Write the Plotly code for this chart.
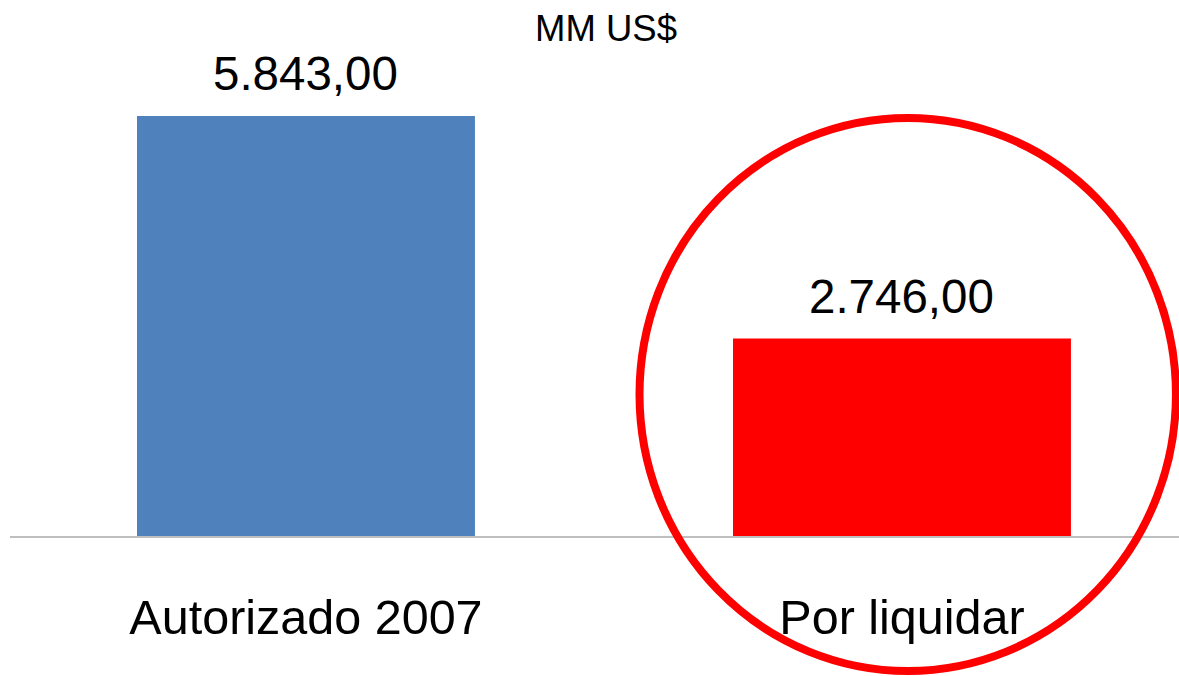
import plotly.graph_objects as go

categories = ["Autorizado 2007", "Por liquidar"]
values = [5843.00, 2746.00]
labels = ["5.843,00", "2.746,00"]
colors = ["#4F81BD", "#FF0000"]
unit_label = "MM US$"

FONT = "Liberation Sans, Arial, sans-serif"

fig = go.Figure()
fig.add_trace(go.Bar(
    x=[0, 1], y=values, marker=dict(color=colors, line=dict(width=0)),
    width=0.567, showlegend=False, hoverinfo="skip",
))

for i, (v, t) in enumerate(zip(values, labels)):
    fig.add_annotation(x=i, y=v, xref="x", yref="y", text=t, showarrow=False,
                       yanchor="bottom", yshift=14,
                       font=dict(family=FONT, size=47.5, color="#000000"))

fig.add_annotation(x=(606 - 10) / 1169, y=1, xref="paper", yref="paper",
                   text=unit_label, showarrow=False, yanchor="middle", yshift=-28,
                   font=dict(family=FONT, size=36.5, color="#000000"))

# red highlight ellipse
fig.add_shape(type="circle", xref="paper", yref="paper",
              x0=0.5385, x1=0.9974, y0=-0.2519, y1=0.7799,
              line=dict(color="#FF0000", width=8), layer="above")

fig.update_layout(
    width=1179, height=676,
    margin=dict(l=10, r=0, t=0, b=140, pad=0),
    plot_bgcolor="#FFFFFF", paper_bgcolor="#FFFFFF",
    bargap=0.4,
    xaxis=dict(range=[-0.4966, 1.4648], tickmode="array", tickvals=[0, 1],
               ticktext=categories, showline=True, linecolor="#BFBFBF", linewidth=2,
               showgrid=False, zeroline=False, ticks="", ticklabelstandoff=38,
               tickfont=dict(family=FONT, size=48.5, color="#000000"), fixedrange=True),
    yaxis=dict(range=[0, 7457], visible=False, showgrid=False, zeroline=False),
)

fig.write_html("out.html", config={"displayModeBar": False},
               post_script="document.body.style.margin='0';document.body.style.overflow='hidden';")
